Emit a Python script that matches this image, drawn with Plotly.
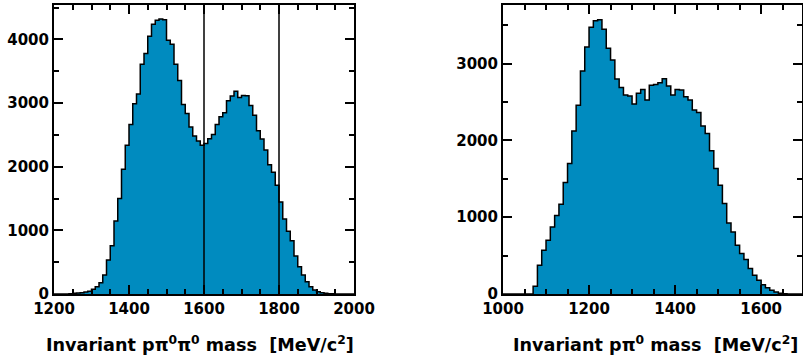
import plotly.graph_objects as go

BIN_WIDTH = 10

left_bin_start = 1200
left_counts = [0, 0, 0, 0, 5, 10, 15, 20, 30, 42,
               73, 115, 178, 298, 534, 758, 1146, 1502, 1960, 2335,
               2664, 2988, 3140, 3611, 3779, 4051, 4239, 4300, 4320, 4310,
               3988, 3925, 3611, 3355, 2978, 2837, 2622, 2481, 2402, 2335,
               2366, 2438, 2507, 2664, 2784, 2846, 3035, 3109, 3187, 3088,
               3120, 3115, 2962, 2810, 2564, 2434, 2261, 2030, 1911, 1710,
               1445, 1180, 985, 837, 597, 429, 298, 194, 115, 63,
               37, 20, 10, 5, 2, 0, 0, 0, 0, 0]

right_bin_start = 1000
right_counts = [0, 0, 0, 0, 0, 0, 0, 100, 374, 570,
                700, 874, 1022, 1170, 1452, 1700, 2122, 2457, 2904, 3217,
                3474, 3560, 3573, 3448, 3200, 3047, 2800, 2691, 2591, 2578,
                2474, 2613, 2665, 2526, 2720, 2730, 2752, 2804, 2708, 2591,
                2665, 2656, 2569, 2526, 2396, 2365, 2187, 2092, 1865, 1635,
                1417, 1179, 926, 808, 635, 526, 448, 331, 244, 179,
                122, 83, 48, 26, 10, 3, 0, 0, 0, 0]

left_xticks = [1200, 1400, 1600, 1800, 2000]
right_xticks = [1000, 1200, 1400, 1600]
left_yticks = [0, 1000, 2000, 3000, 4000]
right_yticks = [0, 1000, 2000, 3000]
cut_lines = [1600, 1800]

left_title = "Invariant p\u03c0<sup>0</sup>\u03c0<sup>0</sup> mass\u00a0 [MeV/c<sup>2</sup>]"
right_title = "Invariant p\u03c0<sup>0</sup> mass\u00a0 [MeV/c<sup>2</sup>]"

FILL = "#008bbf"
FONT = "DejaVu Sans"


def step_xy(start, counts):
    edges = [start + i * BIN_WIDTH for i in range(len(counts) + 1)]
    ys = list(counts) + [counts[-1]]
    return edges, ys


fig = go.Figure()
for start, counts, xa, ya in [(left_bin_start, left_counts, "x", "y"),
                              (right_bin_start, right_counts, "x2", "y2")]:
    xs, ys = step_xy(start, counts)
    fig.add_trace(go.Scatter(x=xs, y=ys, mode="lines", line_shape="hv",
                             line=dict(color="black", width=1.5),
                             fill="tozeroy", fillcolor=FILL,
                             xaxis=xa, yaxis=ya, showlegend=False,
                             hoverinfo="skip"))

W, H = 803, 360
tickfont = dict(family=FONT, size=15, color="black", weight="bold")


def axis_common():
    return dict(ticks="inside", ticklen=9, tickwidth=1.5, tickcolor="black",
                showline=True, linewidth=2, linecolor="black", mirror="ticks",
                showgrid=False, zeroline=False, tickfont=tickfont,
                automargin=False,
                minor=dict(ticks="inside", ticklen=5, tickwidth=1.5,
                           tickcolor="black", showgrid=False))


ydom = [1 - 294 / H, 1 - 5 / H]

xa1 = axis_common()
xa1.update(domain=[54 / W, 354 / W], range=[1200, 2000], tickvals=left_xticks,
           anchor="y")
xa1["minor"]["dtick"] = 50
xa1["minor"]["tick0"] = 1200
ya1 = axis_common()
ya1.update(domain=ydom, range=[0, 4540], tickvals=left_yticks, anchor="x")
ya1["minor"]["dtick"] = 500
ya1["minor"]["tick0"] = 0

xa2 = axis_common()
xa2.update(domain=[503 / W, 802 / W], range=[1000, 1695], tickvals=right_xticks,
           anchor="y2")
xa2["minor"]["dtick"] = 50
xa2["minor"]["tick0"] = 1000
ya2 = axis_common()
ya2.update(domain=ydom, range=[0, 3764], tickvals=right_yticks, anchor="x2")
ya2["minor"]["dtick"] = 500
ya2["minor"]["tick0"] = 0

shapes = [dict(type="line", xref="x", yref="y domain", x0=v, x1=v, y0=0, y1=1,
               line=dict(color="black", width=1.5)) for v in cut_lines]

titlefont = dict(family=FONT, size=17.6, color="black", weight="bold")
annotations = [
    dict(text=left_title, xref="paper", x=44 / W, xanchor="left", yref="paper",
         y=(H - 344) / H, yanchor="middle", showarrow=False, font=titlefont),
    dict(text=right_title, xref="paper", x=511 / W, xanchor="left", yref="paper",
         y=(H - 344) / H, yanchor="middle", showarrow=False, font=titlefont),
]

fig.update_layout(width=W, height=H, margin=dict(l=0, r=0, t=0, b=0),
                  plot_bgcolor="white", paper_bgcolor="white",
                  xaxis=xa1, yaxis=ya1, xaxis2=xa2, yaxis2=ya2,
                  shapes=shapes, annotations=annotations, showlegend=False)

fig.write_html("out.html",
               config={"displayModeBar": False},
               post_script="document.body.style.margin='0';"
                           "document.body.style.overflow='hidden';")
